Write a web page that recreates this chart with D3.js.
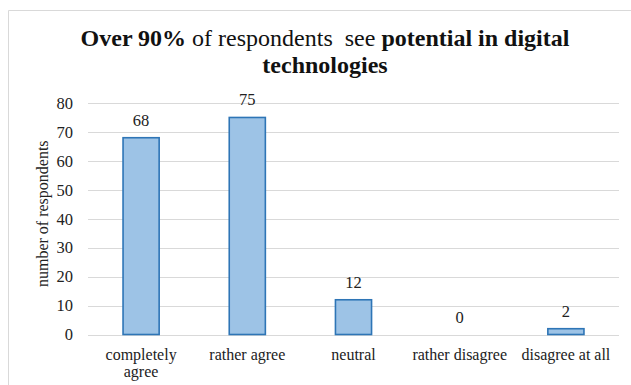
<!DOCTYPE html>
<html>
<head>
<meta charset="utf-8">
<script src="https://cdn.jsdelivr.net/npm/d3@7"></script>
<style>
  html, body { margin: 0; padding: 0; background: #fff; }
  svg { display: block; }
  .serif { font-family: "Liberation Serif"; }
</style>
</head>
<body>
<svg id="chart" width="631" height="385"></svg>
<script>
const categories = ["completely agree", "rather agree", "neutral", "rather disagree", "disagree at all"];
const categoryLines = [["completely", "agree"], ["rather agree"], ["neutral"], ["rather disagree"], ["disagree at all"]];
const values = [68, 75, 12, 0, 2];
const yTicks = [0, 10, 20, 30, 40, 50, 60, 70, 80];
const yAxisTitle = "number of respondents";
const titleLine1 = [["Over 90%", true], [" of respondents  see ", false], ["potential in digital", true]];
const titleLine2 = "technologies";

const svg = d3.select("#chart");
const W = 631, H = 385;
const TXT = "#222";

// chart area border (top and left visible)
svg.append("line").attr("x1", 8.5).attr("x2", W).attr("y1", 10.5).attr("y2", 10.5)
  .attr("stroke", "#d9d9d9").attr("stroke-width", 1);
svg.append("line").attr("x1", 8.5).attr("x2", 8.5).attr("y1", 10.5).attr("y2", H)
  .attr("stroke", "#d9d9d9").attr("stroke-width", 1);

const plot = { left: 88, right: 619, top: 103, bottom: 334.5 };

const x = d3.scaleBand().domain(categories).range([plot.left, plot.right])
  .paddingInner(0.66).paddingOuter(0.33);
const y = d3.scaleLinear().domain([0, 80]).range([plot.bottom, plot.top]);

// gridlines
svg.append("g").selectAll("line").data(yTicks).join("line")
  .attr("x1", plot.left).attr("x2", plot.right)
  .attr("y1", d => Math.round(y(d)) + 0.5).attr("y2", d => Math.round(y(d)) + 0.5)
  .attr("stroke", "#d9d9d9").attr("stroke-width", 1.2);

// y axis tick labels
const yAxis = d3.axisLeft(y).tickValues(yTicks).tickSize(0).tickPadding(0);
const gy = svg.append("g").attr("transform", `translate(${plot.left - 15},0)`).call(yAxis)
  .attr("font-family", null).attr("font-size", null);
gy.select(".domain").remove();
gy.selectAll("text").attr("class", "serif").attr("font-size", 16.5).attr("fill", TXT);

// bars
svg.append("g").selectAll("rect").data(values).join("rect")
  .attr("x", (d, i) => x(categories[i]))
  .attr("width", x.bandwidth())
  .attr("y", d => y(d))
  .attr("height", d => y(0) - y(d))
  .attr("fill", "#9dc3e6")
  .attr("stroke", "#2e75b6")
  .attr("stroke-width", 1.6);

// value labels
svg.append("g").selectAll("text").data(values).join("text")
  .attr("class", "serif")
  .attr("x", (d, i) => x(categories[i]) + x.bandwidth() / 2)
  .attr("y", d => y(d) - 12)
  .attr("text-anchor", "middle")
  .attr("font-size", 16.5).attr("fill", TXT)
  .text(d => d);

// category labels
const cat = svg.append("g").selectAll("text").data(categories).join("text")
  .attr("class", "serif")
  .attr("x", d => x(d) + x.bandwidth() / 2)
  .attr("y", 360)
  .attr("text-anchor", "middle")
  .attr("font-size", 16).attr("fill", TXT);
cat.each(function(d, i) {
  const t = d3.select(this);
  categoryLines[i].forEach((line, j) => {
    t.append("tspan").attr("x", x(d) + x.bandwidth() / 2).attr("dy", j === 0 ? 0 : 17).text(line);
  });
});

// y axis title
svg.append("text")
  .attr("class", "serif")
  .attr("transform", `translate(48,${(plot.top + plot.bottom) / 2 - 5}) rotate(-90)`)
  .attr("text-anchor", "middle")
  .attr("font-size", 16).attr("fill", TXT)
  .text(yAxisTitle);

// title
const tcx = 325;
const t1 = svg.append("text").attr("class", "serif").attr("x", tcx).attr("y", 46).attr("text-anchor", "middle")
  .attr("xml:space", "preserve")
  .attr("font-size", 24).attr("fill", "#111");
titleLine1.forEach(([s, b]) => {
  t1.append("tspan").attr("font-weight", b ? "bold" : "normal").text(s);
});
svg.append("text").attr("class", "serif").attr("x", tcx).attr("y", 73).attr("text-anchor", "middle")
  .attr("font-size", 24).attr("font-weight", "bold").attr("fill", "#111").text(titleLine2);
</script>
</body>
</html>
